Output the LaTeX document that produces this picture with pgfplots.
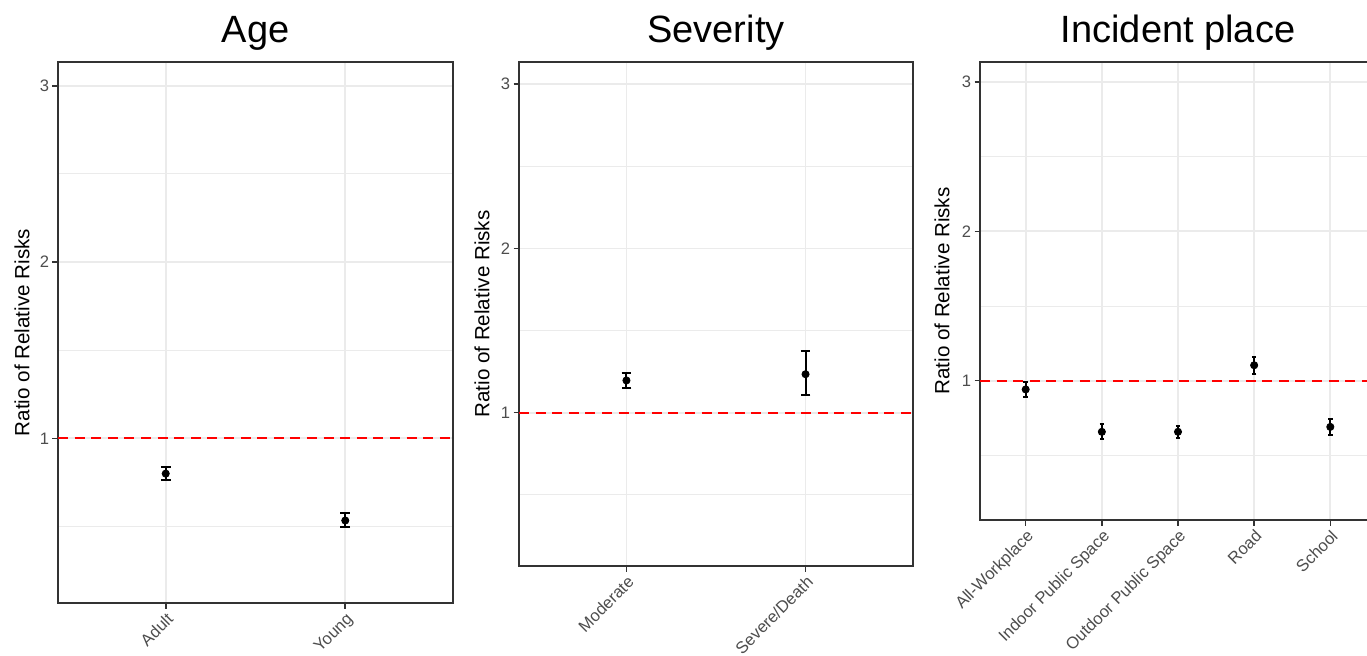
\documentclass[border=0pt]{standalone}
\usepackage{fontspec}
\setmainfont{Liberation Sans}
\usepackage{pgfplots}
\pgfplotsset{compat=1.18}
\definecolor{gridc}{HTML}{EBEBEB}
\definecolor{tickc}{HTML}{4D4D4D}
\definecolor{framec}{HTML}{333333}
\pgfplotsset{
 panel/.style={
  scale only axis, anchor=north west,
  axis line style={framec, line width=0.6pt},
  tick style={framec, line width=0.8pt},
  tick align=outside, major tick length=2.75pt, minor tick length=0pt,
  xtick pos=left, ytick pos=left,
  ymin=0.066, ymax=3.135, ytick={1,2,3}, minor ytick={0.5,1.5,2.5},
  grid=both,
  major grid style={gridc, line width=0.9pt},
  minor grid style={gridc, line width=0.45pt},
  /pgf/number format/assume math mode=true,
  yticklabel style={font=\fontsize{8.3}{9}\selectfont, text=tickc, inner sep=1.5pt},
  xticklabel style={rotate=45, anchor=north east, font=\fontsize{8.3}{9}\selectfont, text=tickc, inner sep=1pt},
  title style={font=\fontsize{19}{22}\selectfont, at={(axis description cs:0.5,1)}, anchor=base, yshift=4pt},
  ylabel=Ratio of Relative Risks,
  ylabel style={font=\fontsize{10.3}{12}\selectfont, anchor=center},
  error bars/y dir=both, error bars/y explicit,
  error bars/error bar style={black, line width=1pt},
 },
 refline/.style={red, line width=0.9pt, dash pattern=on 5pt off 3.3pt, forget plot},
 pts/.style={only marks, mark=*, mark size=1.8pt, black},
}
\begin{document}
\begin{tikzpicture}
\path[use as bounding box] (0pt,0pt) rectangle (683.5pt,-327.5pt);
\clip (0pt,0pt) rectangle (683.5pt,-327.5pt);
% Age
\begin{axis}[panel, at={(29pt,-31pt)}, width=197.5pt, height=270.5pt,
  xmin=0.4, xmax=2.6, xtick={1,2}, xticklabels={Adult,Young},
  title={Age},
  ylabel style={at={(axis description cs:-0.091,0.5)}},
  error bars/error mark options={black, line width=1pt, mark size=2.4pt, rotate=90}]
\addplot[refline] coordinates {(0.4,1) (2.6,1)};
\addplot[pts] coordinates {
 (1,0.800) += (0,0.035) -= (0,0.035)
 (2,0.534) += (0,0.040) -= (0,0.036)
};
\end{axis}
% Severity
\begin{axis}[panel, at={(259.5pt,-31pt)}, width=197pt, height=252pt,
  xmin=0.4, xmax=2.6, xtick={1,2}, xticklabels={Moderate,Severe/Death},
  title={Severity},
  ylabel style={at={(axis description cs:-0.094,0.5)}},
  error bars/error mark options={black, line width=1pt, mark size=2.4pt, rotate=90}]
\addplot[refline] coordinates {(0.4,1) (2.6,1)};
\addplot[pts] coordinates {
 (1,1.196) += (0,0.048) -= (0,0.046)
 (2,1.234) += (0,0.140) -= (0,0.127)
};
\end{axis}
% Incident place
\begin{axis}[panel, at={(490pt,-31pt)}, width=198pt, height=229pt,
  xmin=0.4, xmax=5.6, xtick={1,2,3,4,5},
  xticklabels={All-Workplace,Indoor Public Space,Outdoor Public Space,Road,School},
  title={Incident place},
  ylabel style={at={(axis description cs:-0.096,0.5)}},
  error bars/error mark options={black, line width=1pt, mark size=1.1pt, rotate=90}]
\addplot[refline] coordinates {(0.4,1) (5.6,1)};
\addplot[pts] coordinates {
 (1,0.941) += (0,0.048) -= (0,0.050)
 (2,0.657) += (0,0.050) -= (0,0.050)
 (3,0.657) += (0,0.042) -= (0,0.042)
 (4,1.103) += (0,0.053) -= (0,0.056)
 (5,0.690) += (0,0.053) -= (0,0.056)
};
\end{axis}
\end{tikzpicture}
\end{document}
